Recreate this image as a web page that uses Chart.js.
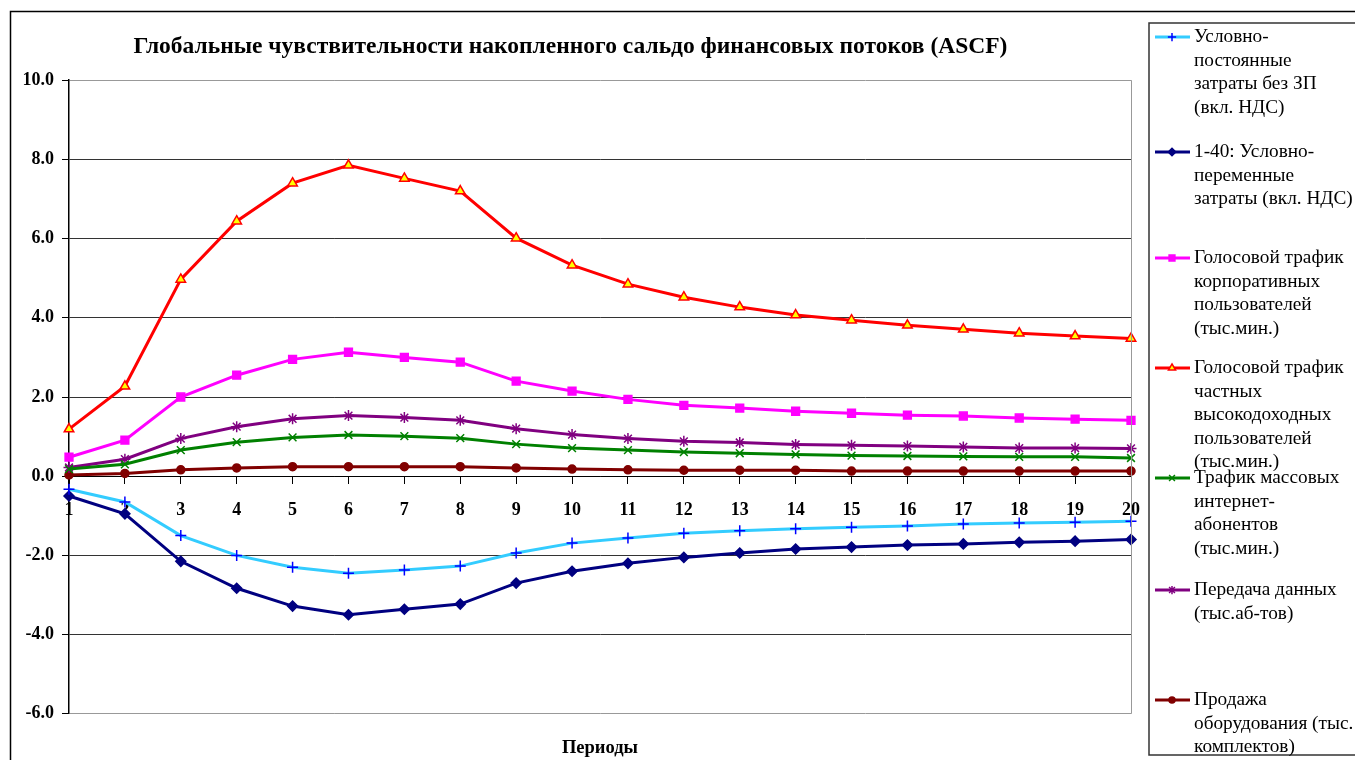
<!DOCTYPE html>
<html>
<head>
<meta charset="utf-8">
<script src="https://cdn.jsdelivr.net/npm/chart.js@4.4.1/dist/chart.umd.min.js"></script>
<style>
    html, body { margin: 0; padding: 0; background: #fff; overflow: hidden; }
    #wrap { width: 1355px; height: 760px; position: relative; }
</style>
</head>
<body>
<div id="wrap"><canvas id="chartASCF"></canvas></div>
<script>
// периоды по оси X
const periods = ['1', '2', '3', '4', '5', '6', '7', '8', '9', '10',
    '11', '12', '13', '14', '15', '16', '17', '18', '19', '20'];

const fixedCosts = [-0.33, -0.65, -1.50, -2.00, -2.30, -2.45, -2.37, -2.27, -1.94, -1.69,
    -1.56, -1.44, -1.38, -1.33, -1.29, -1.26, -1.21, -1.18, -1.16, -1.14];
const variableCosts = [-0.50, -0.95, -2.15, -2.83, -3.28, -3.50, -3.36, -3.23, -2.70, -2.40,
    -2.20, -2.05, -1.94, -1.84, -1.79, -1.74, -1.71, -1.67, -1.64, -1.60];
const voiceCorporate = [0.48, 0.91, 2.00, 2.55, 2.95, 3.13, 3.00, 2.88, 2.40, 2.15,
    1.94, 1.79, 1.72, 1.64, 1.59, 1.54, 1.52, 1.47, 1.44, 1.41];
const voicePrivateHigh = [1.19, 2.27, 4.97, 6.44, 7.40, 7.85, 7.52, 7.20, 6.01, 5.33,
    4.85, 4.52, 4.27, 4.07, 3.94, 3.81, 3.71, 3.61, 3.54, 3.48];
const massInternet = [0.18, 0.30, 0.66, 0.86, 0.98, 1.04, 1.01, 0.96, 0.81, 0.71,
    0.66, 0.61, 0.58, 0.55, 0.52, 0.51, 0.50, 0.49, 0.49, 0.46];
const dataTransfer = [0.22, 0.43, 0.95, 1.25, 1.45, 1.53, 1.48, 1.41, 1.20, 1.05,
    0.95, 0.88, 0.85, 0.80, 0.78, 0.76, 0.74, 0.71, 0.71, 0.70];
const equipmentSales = [0.03, 0.07, 0.16, 0.21, 0.24, 0.24, 0.24, 0.24, 0.21, 0.18,
    0.16, 0.15, 0.15, 0.15, 0.13, 0.13, 0.13, 0.13, 0.13, 0.13];

const yTickValues = [-6, -4, -2, 0, 2, 4, 6, 8, 10];

const chartTitle = 'Глобальные чувствительности накопленного сальдо финансовых потоков (ASCF)';
const xTitle = 'Периоды';

// подписи легенды, уже разбитые на строки
const legendLines = [
    ['Условно-', 'постоянные', 'затраты без ЗП', '(вкл. НДС)'],
    ['1-40: Условно-', 'переменные', 'затраты (вкл. НДС)'],
    ['Голосовой трафик', 'корпоративных', 'пользователей', '(тыс.мин.)'],
    ['Голосовой трафик', 'частных', 'высокодоходных', 'пользователей', '(тыс.мин.)'],
    ['Трафик массовых', 'интернет-', 'абонентов', '(тыс.мин.)'],
    ['Передача данных', '(тыс.аб-тов)'],
    ['Продажа', 'оборудования (тыс.', 'комплектов)']
];

const SERIF = '"Liberation Serif", "Times New Roman", serif';

function series(label, data, line, point, fill, style, radius) {
    return {
        label: label,
        data: data,
        borderColor: line,
        backgroundColor: fill,
        borderWidth: 3,
        pointStyle: style,
        pointRadius: radius,
        pointBorderColor: point,
        pointBackgroundColor: fill,
        pointBorderWidth: 1.5,
        tension: 0,
        clip: false
    };
}

const datasets = [
    series(legendLines[0].join(' '), fixedCosts, '#33CCFF', '#0000FF', '#0000FF', 'cross', 5.5),
    series(legendLines[1].join(' '), variableCosts, '#000080', '#000080', '#000080', 'rectRot', 5),
    series(legendLines[2].join(' '), voiceCorporate, '#FF00FF', '#FF00FF', '#FF00FF', 'rect', 5.5),
    series(legendLines[3].join(' '), voicePrivateHigh, '#FF0000', '#FF0000', '#FFFF00', 'triangle', 5.5),
    series(legendLines[4].join(' '), massInternet, '#008000', '#008000', '#008000', 'crossRot', 5.5),
    series(legendLines[5].join(' '), dataTransfer, '#800080', '#800080', '#800080', 'star', 5.5),
    series(legendLines[6].join(' '), equipmentSales, '#800000', '#800000', '#800000', 'circle', 4)
];

// рамки, правая граница области построения и легенда в стиле Excel
const frameAndLegend = {
    id: 'frameAndLegend',
    beforeDraw(chart) {
        const ctx = chart.ctx;
        ctx.save();
        ctx.fillStyle = '#fff';
        ctx.fillRect(0, 0, chart.width, chart.height);
        ctx.restore();
    },
    afterDraw(chart) {
        const ctx = chart.ctx;
        const area = chart.chartArea;
        ctx.save();

        // внешняя рамка диаграммы
        ctx.strokeStyle = '#000';
        ctx.lineWidth = 1.5;
        ctx.beginPath();
        ctx.moveTo(10.5, chart.height);
        ctx.lineTo(10.5, 11.5);
        ctx.lineTo(chart.width, 11.5);
        ctx.stroke();

        // правая граница области построения
        ctx.strokeStyle = '#999';
        ctx.lineWidth = 1;
        ctx.beginPath();
        ctx.moveTo(Math.round(area.right) + 0.5, area.top);
        ctx.lineTo(Math.round(area.right) + 0.5, area.bottom);
        ctx.stroke();

        // рамка легенды
        ctx.strokeStyle = '#333';
        ctx.lineWidth = 1.5;
        ctx.strokeRect(1149, 23, 220, 732);

        const firstLineY = [37, 152, 258, 368, 478, 590, 700];
        const step = 23.5;
        ctx.font = '19.3px ' + SERIF;
        ctx.textBaseline = 'middle';
        ctx.textAlign = 'left';

        chart.data.datasets.forEach(function (ds, i) {
            const y = firstLineY[i];
            ctx.strokeStyle = ds.borderColor;
            ctx.lineWidth = 3;
            ctx.beginPath();
            ctx.moveTo(1155, y);
            ctx.lineTo(1190, y);
            ctx.stroke();

            ctx.strokeStyle = ds.pointBorderColor;
            ctx.fillStyle = ds.pointBackgroundColor;
            ctx.lineWidth = 1.5;
            if (Chart.helpers && Chart.helpers.drawPoint) {
                Chart.helpers.drawPoint(ctx, {
                    pointStyle: ds.pointStyle,
                    radius: ds.pointRadius * 0.75,
                    borderWidth: 1.5,
                    rotation: 0
                }, 1172, y);
            }

            ctx.fillStyle = '#000';
            legendLines[i].forEach(function (line, j) {
                ctx.fillText(line, 1194, y + j * step);
            });
        });
        ctx.restore();
    }
};

const ctx = document.getElementById('chartASCF').getContext('2d');

const chart = new Chart(ctx, {
    type: 'line',
    data: {
        labels: periods,
        datasets: datasets
    },
    options: {
        responsive: true,
        maintainAspectRatio: false,
        animation: false,
        events: [],
        layout: {
            padding: { left: 10, right: 224, top: 0, bottom: 0 }
        },
        plugins: {
            legend: { display: false },
            tooltip: { enabled: false },
            title: {
                display: true,
                text: chartTitle,
                color: '#000',
                font: { family: SERIF, size: 23.5, weight: 'bold' },
                padding: { top: 33, bottom: 19 }
            },
            subtitle: {
                display: true,
                position: 'bottom',
                fullSize: false,
                text: xTitle,
                color: '#000',
                font: { family: SERIF, size: 18.5, weight: 'bold' },
                padding: { top: 23, bottom: 1 }
            }
        },
        scales: {
            x: {
                position: { y: 0 },
                offset: false,
                grid: {
                    drawOnChartArea: false,
                    tickLength: 7,
                    tickColor: '#000'
                },
                border: { color: '#000', width: 1 },
                ticks: {
                    color: '#000',
                    font: { family: SERIF, size: 18, weight: 'bold' },
                    maxRotation: 0,
                    autoSkip: false,
                    padding: 16
                }
            },
            y: {
                min: -6,
                max: 10,
                afterFit: function (scale) { scale.width = 59; },
                afterBuildTicks: function (scale) {
                    scale.ticks = yTickValues.map(v => ({ value: v }));
                },
                ticks: {
                    color: '#000',
                    font: { family: SERIF, size: 18, weight: 'bold' },
                    padding: 8,
                    callback: v => Number(v).toFixed(1)
                },
                grid: {
                    color: c => (c.tick && (c.tick.value === 10 || c.tick.value === -6)) ? '#999' : '#333',
                    lineWidth: 1,
                    tickLength: 7,
                    tickColor: '#000'
                },
                border: { color: '#000', width: 1.5 }
            }
        }
    },
    plugins: [frameAndLegend]
});
</script>
</body>
</html>
